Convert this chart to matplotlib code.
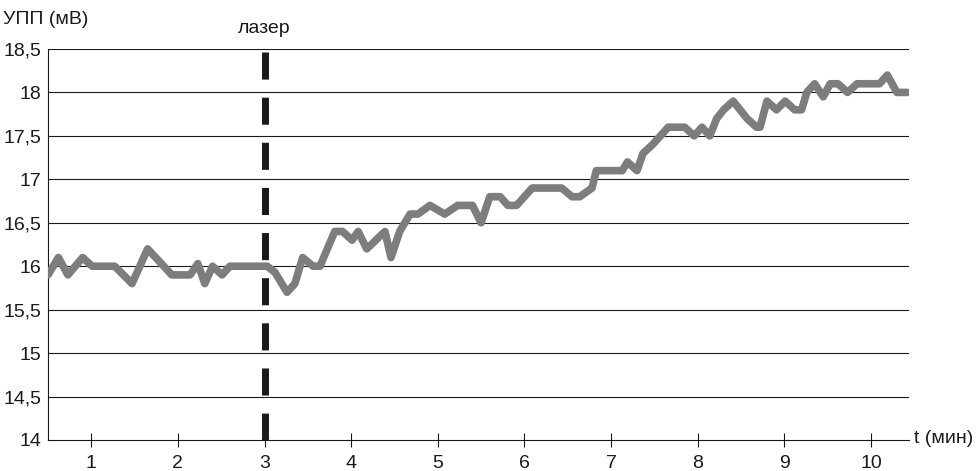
import matplotlib
matplotlib.use('Agg')
import matplotlib.pyplot as plt
import matplotlib.transforms as mtransforms

plt.rcParams['font.family'] = ['Liberation Sans', 'DejaVu Sans']

# УПП over time
t_min = [0.50, 0.62, 0.73, 0.90, 1.01, 1.27, 1.47, 1.65, 1.93, 2.14,
         2.23, 2.31, 2.40, 2.51, 2.60, 3.03, 3.12, 3.26, 3.35, 3.44,
         3.56, 3.64, 3.81, 3.90, 4.01, 4.08, 4.18, 4.39, 4.46, 4.56,
         4.68, 4.77, 4.91, 5.08, 5.23, 5.40, 5.50, 5.60, 5.72, 5.81,
         5.91, 6.09, 6.43, 6.55, 6.64, 6.78, 6.83, 7.13, 7.19, 7.30,
         7.37, 7.48, 7.66, 7.85, 7.96, 8.05, 8.14, 8.22, 8.30, 8.41,
         8.57, 8.68, 8.72, 8.80, 8.91, 9.01, 9.12, 9.20, 9.26, 9.35,
         9.45, 9.53, 9.62, 9.73, 9.84, 10.10, 10.19, 10.30, 10.42]
upp_mv = [15.9, 16.1, 15.9, 16.1, 16.0, 16.0, 15.8, 16.2, 15.9, 15.9,
          16.03, 15.8, 16.0, 15.9, 16.0, 16.0, 15.93, 15.7, 15.8, 16.1,
          16.0, 16.0, 16.4, 16.4, 16.3, 16.4, 16.2, 16.4, 16.1, 16.4,
          16.6, 16.6, 16.7, 16.6, 16.7, 16.7, 16.5, 16.8, 16.8, 16.7,
          16.7, 16.9, 16.9, 16.8, 16.8, 16.9, 17.1, 17.1, 17.2, 17.1,
          17.3, 17.4, 17.6, 17.6, 17.5, 17.6, 17.5, 17.7, 17.8, 17.9,
          17.7, 17.6, 17.6, 17.9, 17.8, 17.9, 17.8, 17.8, 18.0, 18.1,
          17.95, 18.1, 18.1, 18.0, 18.1, 18.1, 18.2, 18.0, 18.0]

laser_t = 3
x_ticks = [1, 2, 3, 4, 5, 6, 7, 8, 9, 10]
y_ticks = [14, 14.5, 15, 15.5, 16, 16.5, 17, 17.5, 18, 18.5]
y_labels = ['14', '14,5', '15', '15,5', '16', '16,5', '17', '17,5', '18', '18,5']

ink = '#1a1a1a'

fig = plt.figure(figsize=(9.78, 4.71), dpi=100)
ax = fig.add_axes([48/978, 1 - 440/471, (909 - 48)/978, (440 - 49)/471])

ax.set_xlim(0.5, 10.44)
ax.set_ylim(14, 18.5)

# horizontal grid
for y in y_ticks[1:]:
    ax.axhline(y, color=ink, lw=0.8, zorder=1)

ax.plot(t_min, upp_mv, color='#7d7d7d', lw=5.5, solid_joinstyle='round',
        solid_capstyle='round', zorder=3)

ax.plot([laser_t, laser_t], [18.47, 14.0], color=ink, lw=5,
        linestyle=(0, (3.9, 2.6)), dash_capstyle='butt', zorder=4)

ax.set_xticks(x_ticks)
ax.set_xticklabels([str(v) for v in x_ticks])
ax.set_yticks(y_ticks)
ax.set_yticklabels(y_labels)
ax.tick_params(axis='x', direction='inout', length=10, width=0.8, color=ink,
               labelsize=14, labelcolor=ink, pad=6)
ax.tick_params(axis='y', length=0, labelsize=14, labelcolor=ink, pad=5)

for s in ('top', 'right'):
    ax.spines[s].set_visible(False)
for s in ('left', 'bottom'):
    ax.spines[s].set_color(ink)
    ax.spines[s].set_linewidth(0.8)

fig.text(3/978, 1 - 24/471, 'УПП (мВ)', fontsize=14, color=ink,
         ha='left', va='baseline')
fig.text(914/978, 1 - 443/471, 't (мин)', fontsize=14, color=ink,
         ha='left', va='baseline')
trans = mtransforms.blended_transform_factory(ax.transData, fig.transFigure)
ax.text(laser_t, 1 - 33/471, 'лазер', transform=trans, fontsize=14,
        color=ink, ha='center', va='baseline')

fig.savefig('out.png', dpi=100)
